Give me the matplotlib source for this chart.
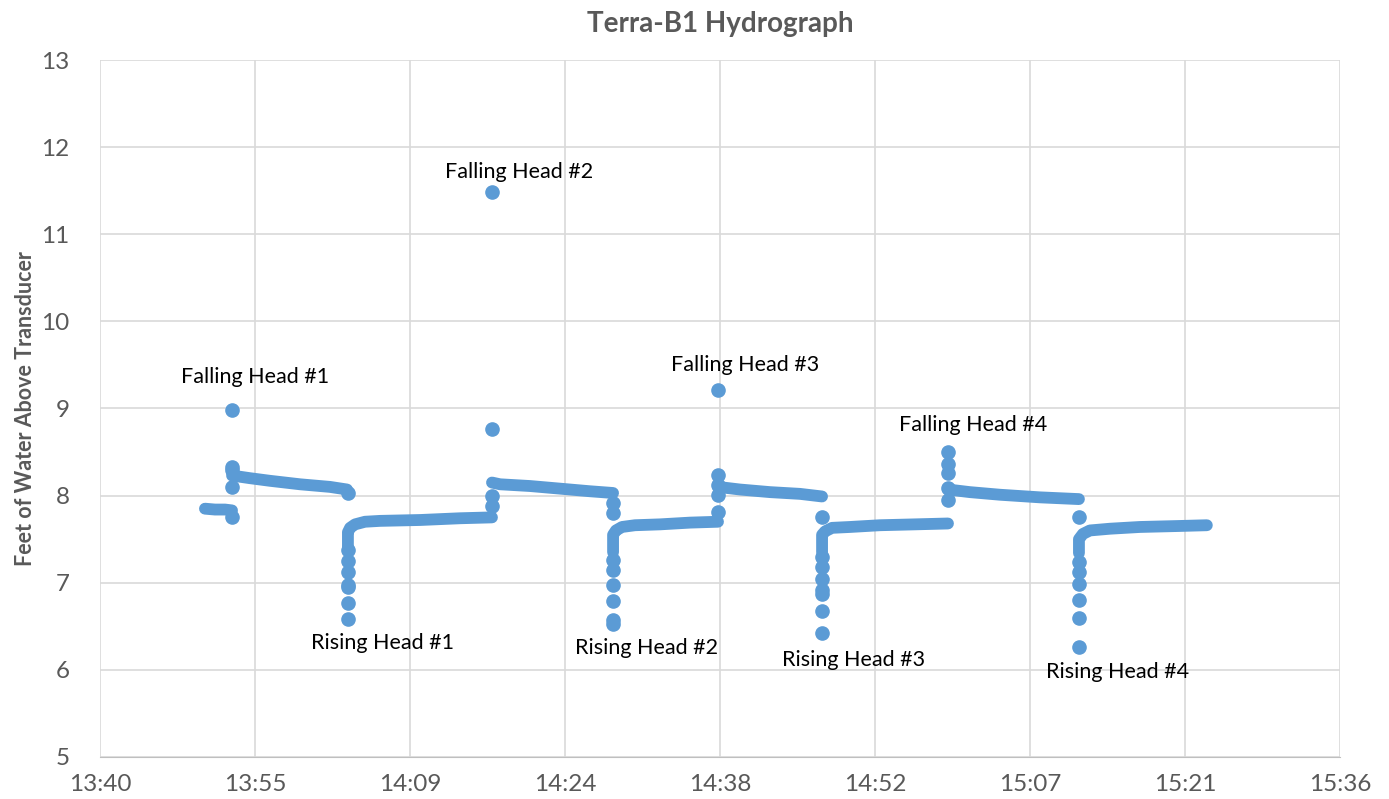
import pandas as pd
import matplotlib
matplotlib.use('Agg')
import matplotlib.pyplot as plt
import matplotlib.dates as mdates

# continuous (dense) stretches of the logger record
base_t = ['13:50:33', '13:51:29', '13:52:25', '13:53:04']
base_v = [7.85, 7.84, 7.84, 7.83]

fall1_t = ['13:53:04', '13:54:44', '13:56:35', '13:59:23', '14:02:10', '14:03:45']
fall1_v = [8.23, 8.20, 8.17, 8.13, 8.10, 8.07]
rise1_t = ['14:03:50', '14:03:50', '14:04:02', '14:04:30', '14:05:25', '14:06:49', '14:10:32', '14:14:15', '14:17:13']
rise1_v = [7.40, 7.58, 7.63, 7.67, 7.70, 7.71, 7.72, 7.74, 7.75]

fall2_t = ['14:17:13', '14:17:58', '14:20:45', '14:23:32', '14:26:19', '14:28:28']
fall2_v = [8.15, 8.13, 8.11, 8.08, 8.05, 8.03]
rise2_t = ['14:28:28', '14:28:28', '14:28:44', '14:29:18', '14:30:30', '14:32:50', '14:35:37', '14:38:13']
rise2_v = [7.35, 7.55, 7.60, 7.64, 7.66, 7.67, 7.69, 7.70]

fall3_t = ['14:38:13', '14:40:15', '14:43:03', '14:45:50', '14:47:53']
fall3_v = [8.10, 8.07, 8.04, 8.02, 7.99]
rise3_t = ['14:47:53', '14:47:53', '14:48:10', '14:48:49', '14:50:29', '14:53:16', '14:56:31', '14:59:35']
rise3_v = [7.35, 7.55, 7.59, 7.63, 7.64, 7.66, 7.67, 7.68]

fall4_t = ['14:59:35', '15:01:37', '15:04:25', '15:08:08', '15:11:45']
fall4_v = [8.07, 8.04, 8.01, 7.98, 7.96]
rise4_t = ['15:11:45', '15:11:45', '15:12:07', '15:12:46', '15:14:38', '15:17:25', '15:20:40', '15:23:38']
rise4_v = [7.34, 7.50, 7.56, 7.60, 7.62, 7.64, 7.65, 7.66]

# isolated readings at the slug insert / removal moments
spike_t = (['13:53:04'] * 5 + ['14:03:50'] * 8 + ['14:17:13'] * 4 + ['14:28:28'] * 8
           + ['14:38:13'] * 5 + ['14:47:53'] * 8 + ['14:59:35'] * 5 + ['15:11:45'] * 7)
spike_v = ([8.98, 8.33, 8.29, 8.10, 7.76]
           + [8.03, 7.38, 7.25, 7.12, 6.97, 6.95, 6.77, 6.58]
           + [7.88, 8.00, 8.77, 11.49]
           + [7.92, 7.80, 7.26, 7.15, 6.97, 6.79, 6.57, 6.53]
           + [7.81, 8.01, 8.12, 8.24, 9.21]
           + [7.76, 7.30, 7.18, 7.04, 6.92, 6.87, 6.68, 6.42]
           + [7.95, 8.09, 8.26, 8.36, 8.50]
           + [7.76, 7.24, 7.12, 6.99, 6.80, 6.60, 6.26])

label_txt = ['Falling Head #1', 'Falling Head #2', 'Falling Head #3', 'Falling Head #4',
             'Rising Head #1', 'Rising Head #2', 'Rising Head #3', 'Rising Head #4']
label_t = ['13:55:12', '14:19:44', '14:40:43', '15:01:54', '14:07:05', '14:31:37', '14:50:46', '15:15:23']
label_v = [9.36, 11.72, 9.50, 8.81, 6.31, 6.25, 6.11, 5.98]

day = '2020-01-01 '
def tt(lst):
    return pd.to_datetime([day + s for s in lst])

blue = '#5B9BD5'
grey = '#595959'

fig = plt.figure(figsize=(13.89, 7.99), dpi=100)
ax = fig.add_axes([0.072, 0.0526, 0.8927, 0.8723])

segs = [(base_t, base_v), (fall1_t, fall1_v), (rise1_t, rise1_v), (fall2_t, fall2_v),
        (rise2_t, rise2_v), (fall3_t, fall3_v), (rise3_t, rise3_v), (fall4_t, fall4_v),
        (rise4_t, rise4_v)]
for t, v in segs:
    ax.plot(tt(t), v, color=blue, lw=8.5, solid_capstyle='round', solid_joinstyle='round', zorder=3)
ax.plot(tt(spike_t), spike_v, ls='none', marker='o', ms=9.5, color=blue, mec=blue, zorder=3)

for s, t, v in zip(label_txt, label_t, label_v):
    ax.text(tt([t])[0], v, s, ha='center', va='center', fontsize=15.5, family='Lato', color='black', zorder=4)

x0 = pd.Timestamp(day + '13:40:48')
ticks = [x0 + pd.Timedelta(minutes=14.4 * i) for i in range(9)]
ax.set_xlim(ticks[0], ticks[-1])
ax.set_xticks(ticks)
ax.xaxis.set_major_formatter(mdates.DateFormatter('%H:%M'))
ax.set_ylim(5, 13)
ax.set_yticks(range(5, 14))

ax.grid(True, color='#d9d9d9', lw=1.2, zorder=0)
ax.set_axisbelow(True)
for sp in ['top', 'right', 'left']:
    ax.spines[sp].set_visible(False)
ax.spines['bottom'].set_color('#bfbfbf')
ax.tick_params(length=0, labelsize=17.5, colors=grey, pad=12)
ax.tick_params(axis='y', pad=22)
for lab in ax.get_xticklabels() + ax.get_yticklabels():
    lab.set_family('Lato')

ax.set_title('Terra-B1 Hydrograph', fontsize=20, fontweight='bold', color=grey, family='Lato', pad=20)
ax.set_ylabel('Feet of Water Above Transducer', fontsize=15.5, fontweight='bold', color=grey, family='Lato', labelpad=4)

fig.savefig('out.png', dpi=100)
